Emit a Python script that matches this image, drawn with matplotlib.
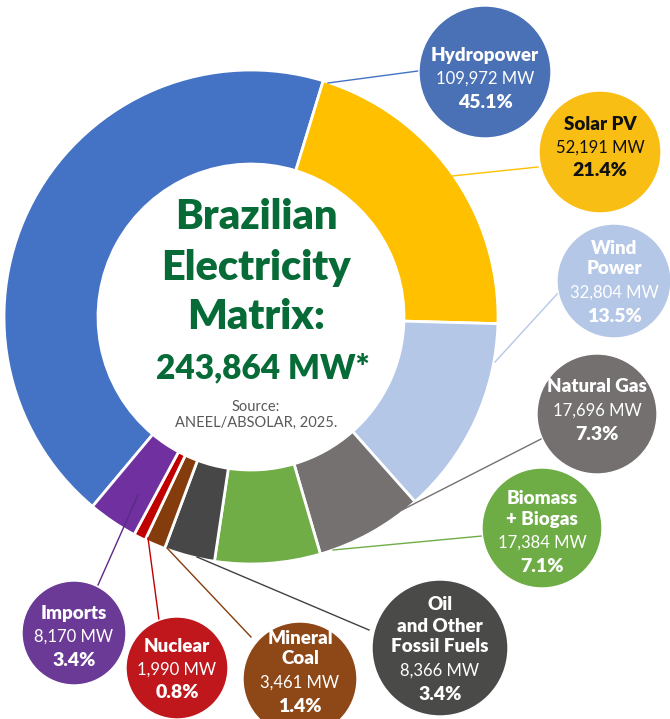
import matplotlib
matplotlib.use("Agg")
import matplotlib.pyplot as plt
from matplotlib.patches import Circle

# data (MW, installed capacity; imports are not part of the total)
sources = ["Hydropower", "Solar PV", "Wind\nPower", "Natural Gas", "Biomass\n+ Biogas",
           "Oil\nand Other\nFossil Fuels", "Mineral\nCoal", "Nuclear", "Imports"]
capacity_mw = [109972, 52191, 32804, 17696, 17384, 8366, 3461, 1990, 8170]
share_pct = [45.1, 21.4, 13.5, 7.3, 7.1, 3.4, 1.4, 0.8, 3.4]
total_mw = 243864

wedge_colors = ["#4472C4", "#FFC000", "#B4C7E7", "#767171", "#70AD47",
                "#474747", "#843C0C", "#C00000", "#7030A0"]
bubble_colors = ["#4A70B5", "#F9BE14", "#B4C7E7", "#757070", "#6EAD46",
                 "#4A4A48", "#8E4716", "#C0171C", "#6A3A96"]
text_colors = ["white", "#111111", "white", "white", "white", "white", "white", "white", "white"]
line_colors = ["#4472C4", "#FFC000", "#B4C7E7", "#767171", "#70AD47",
               "#404040", "#843C0C", "#C00000", "#5A2A86"]

# layout in pixel coords (y measured from top)
W, H = 670, 719
cx, cy, r_out, r_in = 251, 317, 247, 153
bubble_xy = [(485, 72), (600, 152), (614, 281), (597, 414), (542, 528),
             (440, 648), (300, 679), (177, 668), (74, 633)]
bubble_r = [66, 61, 57, 60, 60, 68, 57, 51, 52]
first_line_y = [55, 124, 248, 387, 498, 605, 638, 646, 613]
leaders = [((328, 83), (418, 71)), ((452, 176), (538, 167)), ((495, 362), (558, 293)),
           ((402, 510), (543, 438)), ((333, 550), (482, 536)), ((197, 557), (369, 630)),
           ((167, 548), (251, 637)), ((148, 538), (159, 620)), ((138, 495), (98, 585))]


def Y(y):
    return H - y


plt.rcParams["font.family"] = ["Lato", "DejaVu Sans"]
fig = plt.figure(figsize=(W / 100, H / 100), dpi=100)
ax = fig.add_axes([0, 0, 1, 1])

total_all = sum(capacity_mw)
start = 90 - 17 + 360 * capacity_mw[0] / total_all
ax.pie(capacity_mw, colors=wedge_colors, center=(cx, Y(cy)), radius=r_out,
       startangle=start, counterclock=False, frame=True,
       wedgeprops=dict(width=r_out - r_in, edgecolor="white", linewidth=2))

for (p0, p1), c in zip(leaders, line_colors):
    ax.plot([p0[0], p1[0]], [Y(p0[1]), Y(p1[1])], color=c, lw=1, zorder=3)

for i, name in enumerate(sources):
    bx, by = bubble_xy[i]
    ax.add_patch(Circle((bx, Y(by)), bubble_r[i], facecolor=bubble_colors[i],
                        edgecolor="white", lw=1, zorder=4))
    y = first_line_y[i]
    for part in name.split("\n"):
        ax.text(bx, Y(y), part, ha="center", va="center", fontsize=13.5,
                fontweight=800, color=text_colors[i], zorder=5)
        y += 21
    y += 3
    ax.text(bx, Y(y), f"{capacity_mw[i]:,} MW", ha="center", va="center",
            fontsize=12, fontweight="normal", color=text_colors[i], zorder=5)
    y += 23
    ax.text(bx, Y(y), f"{share_pct[i]:.1f}%", ha="center", va="center",
            fontsize=14, fontweight=800, color=text_colors[i], zorder=5)

green = "#066B36"
for t, yy in zip(["Brazilian", "Electricity", "Matrix:"], [217, 268, 317]):
    ax.text(cx + 5, Y(yy), t, ha="center", va="center", fontsize=30,
            fontweight=800, color=green)
ax.text(cx + 12, Y(368), f"{total_mw:,} MW*", ha="center", va="center",
        fontsize=24, fontweight=800, color=green)
ax.text(cx + 5, Y(407), "Source:", ha="center", va="center", fontsize=10.5, color="#595959")
ax.text(cx + 5, Y(423), "ANEEL/ABSOLAR, 2025.", ha="center", va="center",
        fontsize=10.5, color="#595959")

ax.set_xlim(0, W)
ax.set_ylim(0, H)
ax.set_aspect("equal")
ax.axis("off")
fig.savefig("out.png", dpi=100)
plt.close()
